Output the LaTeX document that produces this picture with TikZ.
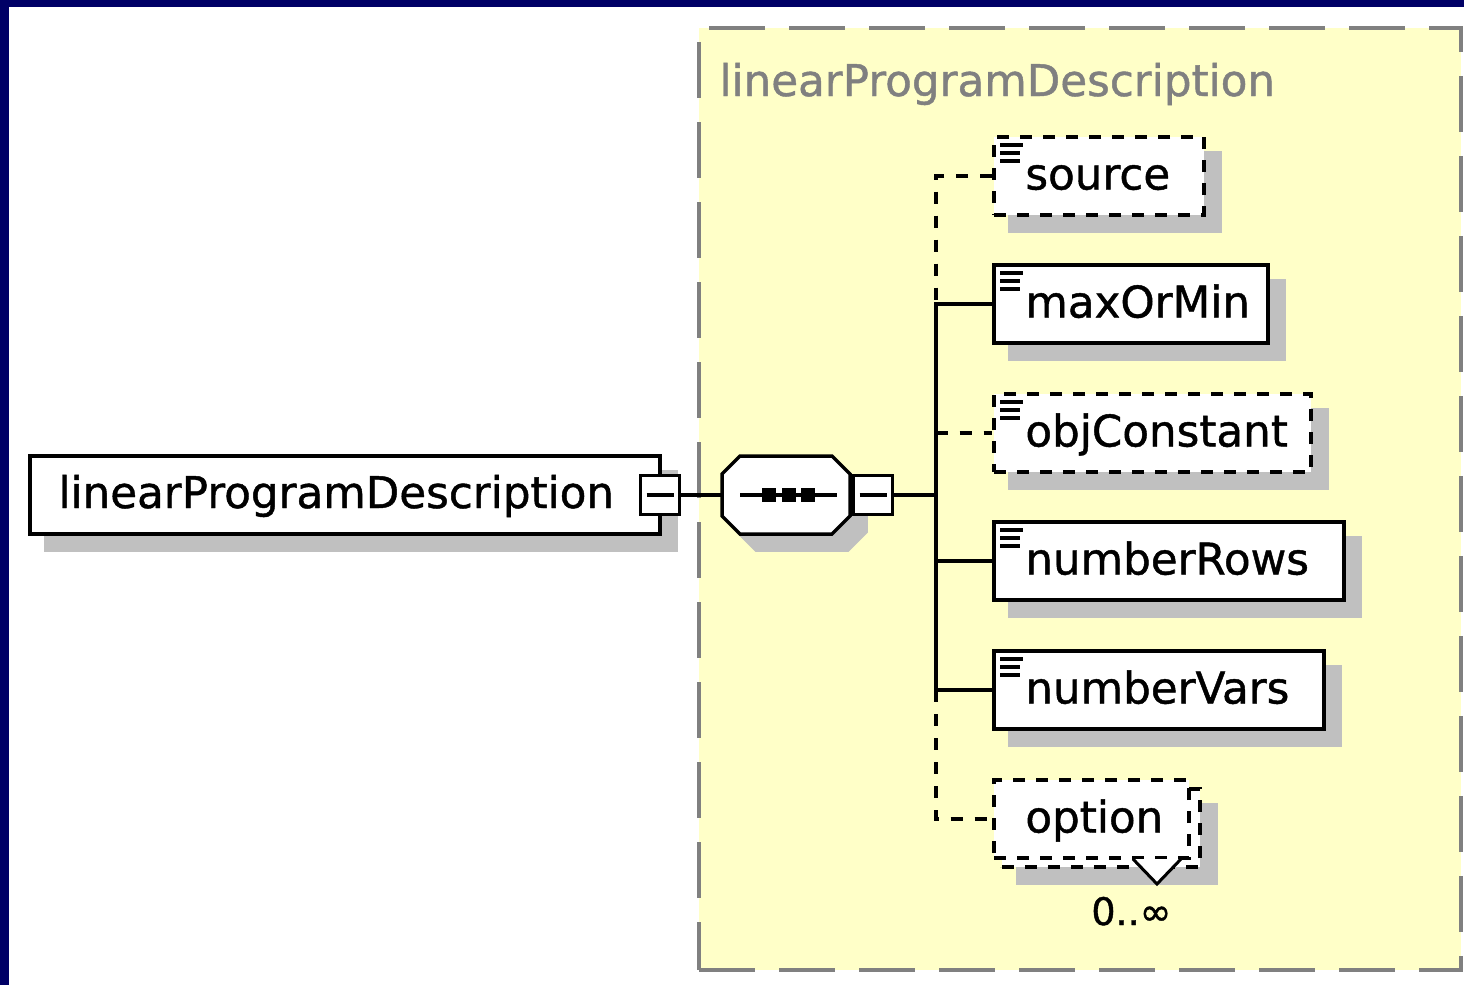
\documentclass[tikz,border=0pt]{standalone}
\usepackage{fontspec}
\setmainfont{DejaVu Sans}[FakeBold=1]
\usetikzlibrary{calc}

\definecolor{frameblue}{RGB}{0,0,102}
\definecolor{groupfill}{RGB}{255,255,200}
\definecolor{groupline}{RGB}{128,128,128}
\definecolor{shadowgray}{RGB}{192,192,192}

\pgfdeclarelayer{paper}
\pgfdeclarelayer{shadowlayer}
\pgfsetlayers{paper,shadowlayer,main}

\tikzset{
  sz/.style 2 args={minimum width=#1*0.5pt, minimum height=#2*0.5pt},
  elem/.style={draw=black, fill=white, line width=2pt, inner sep=0pt, shape=rectangle},
  optional/.style={dash pattern=on 6pt off 5.5pt},
  tag/.style={inner sep=0pt, anchor=base west, font=\fontsize{21.8pt}{26pt}\selectfont},
  conn/.style={line width=2pt, line cap=rect},
  optconn/.style={line width=2pt, dash pattern=on 6pt off 6pt},
  pm/.style={draw=black, fill=white, line width=1.5pt, inner sep=0pt, minimum size=19.5pt},
  docline/.style={line width=2pt},
  group/.style={draw=groupline, fill=groupfill, line width=2pt, dash pattern=on 28pt off 12pt, inner sep=0pt},
}

% drop shadow behind a rectangular node
\newcommand\shadowof[1]{%
  \begin{pgfonlayer}{shadowlayer}
    \fill[shadowgray] ($(#1.north west)+(16,16)$) rectangle ($(#1.south east)+(16,16)$);
  \end{pgfonlayer}}

% documentation mark (three bars) in the upper left corner of an element
\newcommand\docmark[1]{%
  \draw[docline] ($(#1.north west)+(8,9.5)$) -- +(23,0);
  \draw[docline] ($(#1.north west)+(8,17.5)$) -- +(20,0);
  \draw[docline] ($(#1.north west)+(8,25.5)$) -- +(20,0);}

% minus sign of an expand/collapse button
\newcommand\minussign[1]{%
  \draw[line width=1.6pt] ($(#1.center)+(-13.5,0)$) -- ($(#1.center)+(13.5,0)$);}

% octagon of the sequence compositor, shifted by (#1,#2)
\newcommand\seqoutline[2]{%
  ($(seq.north west)+(18+#1,#2)$) -- ($(seq.north east)+(-18+#1,#2)$) --
  ($(seq.north east)+(#1,18+#2)$) -- ($(seq.south east)+(#1,-18+#2)$) --
  ($(seq.south east)+(-18+#1,#2)$) -- ($(seq.south west)+(18+#1,#2)$) --
  ($(seq.south west)+(#1,-18+#2)$) -- ($(seq.north west)+(#1,18+#2)$) -- cycle}

\begin{document}
\begin{tikzpicture}[x=0.5pt, y=-0.5pt]
\useasboundingbox (0,0) rectangle (1464,985);

\begin{pgfonlayer}{paper}
  \fill[white] (0,0) rectangle (1464,985);
  \fill[frameblue] (0,0) rectangle (1464,6.7);
  \fill[frameblue] (0,0) rectangle (8.7,985);
  \node[group, sz={762}{942}] (grp) at (1080,499) {};
  \node[tag, text=groupline] (grptitle) at ($(grp.north west)+(22,70)$) {linearProgramDescription};
\end{pgfonlayer}

% root element
\node[elem, sz={630}{78}] (root) at (345,495) {};
\shadowof{root}
\node[tag] (roottext) at ($(root.west)+(30,13)$) {linearProgramDescription};
\node[pm] (rootpm) at (660,495) {};
\minussign{rootpm}

% sequence compositor
\node[inner sep=0pt, outer sep=0pt, sz={128}{78}] (seq) at (786,495) {};
\begin{pgfonlayer}{shadowlayer}
  \filldraw[shadowgray, line width=1.75pt] \seqoutline{16}{16};
\end{pgfonlayer}
\draw[conn] (rootpm.east) -- (seq.west);
\filldraw[fill=white, draw=black, line width=1.75pt] \seqoutline{0}{0};
\draw[line width=2pt] ($(seq.center)+(-46,0)$) -- ($(seq.center)+(51,0)$);
\foreach \dx in {-17,2.5,22}
  \fill ($(seq.center)+(\dx-7,-7)$) rectangle ($(seq.center)+(\dx+7,7)$);
\node[pm] (seqpm) at (873,495) {};
\minussign{seqpm}

\coordinate (trunk) at (935.5,495);
\draw[conn] (seqpm.east) -- (trunk);

% child elements
\node[elem, optional, sz={210}{78}] (source) at (1099,176) {};
\node[elem, sz={274}{78}] (maxOrMin) at (1131,304) {};
\node[elem, optional, sz={317}{78}] (objConstant) at (1152.5,433) {};
\node[elem, sz={350}{78}] (numberRows) at (1169,561) {};
\node[elem, sz={330}{78}] (numberVars) at (1159,690) {};
\node[elem, optional, sz={198}{78}] (optionback) at (1101,828) {};
\node[elem, optional, sz={195}{78}] (option) at (1091.5,819) {};

\shadowof{source}
\shadowof{maxOrMin}
\shadowof{objConstant}
\shadowof{numberRows}
\shadowof{numberVars}
\shadowof{optionback}

\docmark{source}
\docmark{maxOrMin}
\docmark{objConstant}
\docmark{numberRows}
\docmark{numberVars}

\node[tag] at ($(source.west)+(33,13.5)$) {source};
\node[tag] at ($(maxOrMin.west)+(33,13.5)$) {maxOrMin};
\node[tag] at ($(objConstant.west)+(33,13.5)$) {objConstant};
\node[tag] at ($(numberRows.west)+(33,13.5)$) {numberRows};
\node[tag] at ($(numberVars.west)+(33,13.5)$) {numberVars};
\node[tag] at ($(option.west)+(33,13.5)$) {option};

% multiplicity marker and occurrence range
\fill[white] ($(option.south west)+(141,-1)$) -- ($(option.south west)+(189,-1)$) -- ($(option.south west)+(165,24)$) -- cycle;
\draw[line width=1.5pt] ($(option.south west)+(141,-1)$) -- ($(option.south west)+(165,24)$) -- ($(option.south west)+(189,-1)$);
\node[inner sep=0pt, anchor=base west, font=\fontsize{19pt}{22pt}\selectfont] (card) at ($(optionback.south west)+(91,56)$) {0..∞};

% connectors from the sequence to the children
\draw[optconn] (source.west) -- (source.west -| trunk) -- (maxOrMin.west -| trunk);
\draw[conn] (maxOrMin.west -| trunk) -- (numberVars.west -| trunk);
\draw[conn] (maxOrMin.west -| trunk) -- (maxOrMin.west);
\draw[optconn] (objConstant.west -| trunk) -- (objConstant.west);
\draw[conn] (numberRows.west -| trunk) -- (numberRows.west);
\draw[conn] (numberVars.west -| trunk) -- (numberVars.west);
\draw[optconn] (numberVars.west -| trunk) -- (option.west -| trunk) -- (option.west);
\end{tikzpicture}
\end{document}
